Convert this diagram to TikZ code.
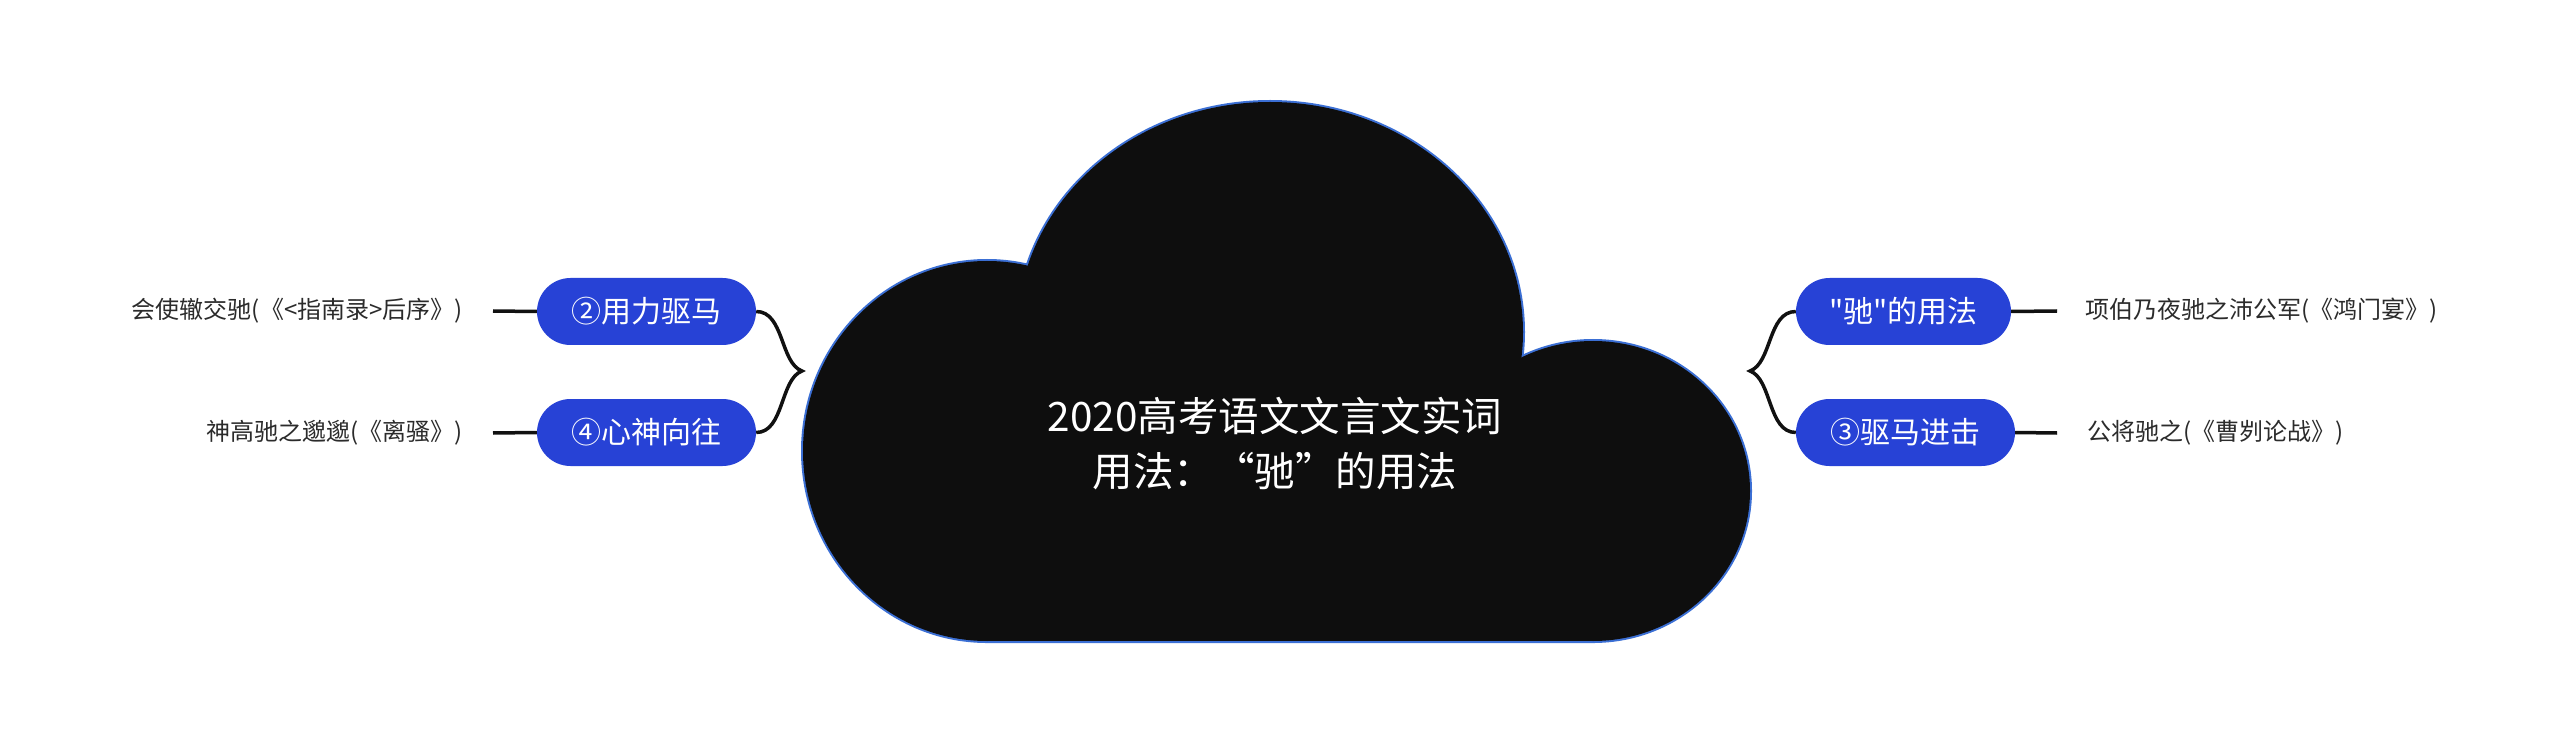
\documentclass[tikz,border=0pt]{standalone}
\usepackage{fontspec}
\newfontfamily\cjk{Noto Sans CJK SC}
\definecolor{pillblue}{HTML}{2742D6}
\definecolor{cloudfill}{HTML}{0E0E0E}
\definecolor{cloudline}{HTML}{3B6FD4}
\definecolor{linkc}{HTML}{111111}
\definecolor{leafc}{HTML}{2B2B2B}
\begin{document}
\begin{tikzpicture}[x=1pt,y=-1pt,
  pill/.style={fill=pillblue, text=white, rounded corners=33.5pt, minimum height=67pt, inner sep=0pt, font=\cjk\fontsize{30}{36}\selectfont},
  leaf/.style={text=leafc, inner sep=0pt, font=\cjk\fontsize{24}{30}\selectfont},
  link/.style={draw=linkc, line width=3.5pt},
  brace/.style={draw=linkc, line width=3.5pt},
  cloudpart/.style={line width=4pt}
  ]
\useasboundingbox (0,0) rectangle (2560,743);
% cloud: blue outline of the union, then black fill
\path[draw=cloudline, cloudpart]
  (987,451) ellipse [x radius=184, y radius=190]
  (1270,332) ellipse [x radius=253, y radius=230]
  (1593,491) ellipse [x radius=157, y radius=150]
  (987,450) rectangle (1593,641);
\fill[cloudfill] (987,451) ellipse [x radius=184, y radius=190];
\fill[cloudfill] (1270,332) ellipse [x radius=253, y radius=230];
\fill[cloudfill] (1593,491) ellipse [x radius=157, y radius=150];
\fill[cloudfill] (987,450) rectangle (1593,641);
\node[text=white, align=center, font=\cjk\fontsize{40.5}{55}\selectfont] (root) at (1275,444) {2020高考语文文言文实词\\用法：“驰”的用法};
% pills
\node[pill, minimum width=219pt] (p2) at (646.5,311.5) {②用力驱马};
\node[pill, minimum width=219pt] (p4) at (646.5,432.5) {④心神向往};
\node[pill, minimum width=215pt] (pq) at (1903.5,311.5) {"驰"的用法};
\node[pill, minimum width=219pt] (p3) at (1905.5,432.5) {③驱马进击};
% leaves
\node[leaf, anchor=east] (a1) at (463,311) {会使辙交驰(《<指南录>后序》)};
\node[leaf, anchor=east] (a2) at (463,433) {神高驰之邈邈(《离骚》)};
\node[leaf, anchor=west] (b1) at (2085,311) {项伯乃夜驰之沛公军(《鸿门宴》)};
\node[leaf, anchor=west] (b2) at (2087,433) {公将驰之(《曹刿论战》)};
% links
\draw[link] ([xshift=30pt]a1.east) -- (p2.west);
\draw[link] ([xshift=30pt]a2.east) -- (p4.west);
\draw[link] (pq.east) -- ([xshift=-28pt]b1.west);
\draw[link] (p3.east) -- ([xshift=-30pt]b2.west);
% braces
\coordinate (bl) at (802,371);
\coordinate (br) at (1750,371);
\draw[brace] (p2.east) .. controls +(28,0) and +(-22,-8) .. (bl) .. controls +(-22,8) and +(28,0) .. (p4.east);
\draw[brace] (pq.west) .. controls +(-28,0) and +(22,-8) .. (br) .. controls +(22,8) and +(-28,0) .. (p3.west);
\end{tikzpicture}
\end{document}
